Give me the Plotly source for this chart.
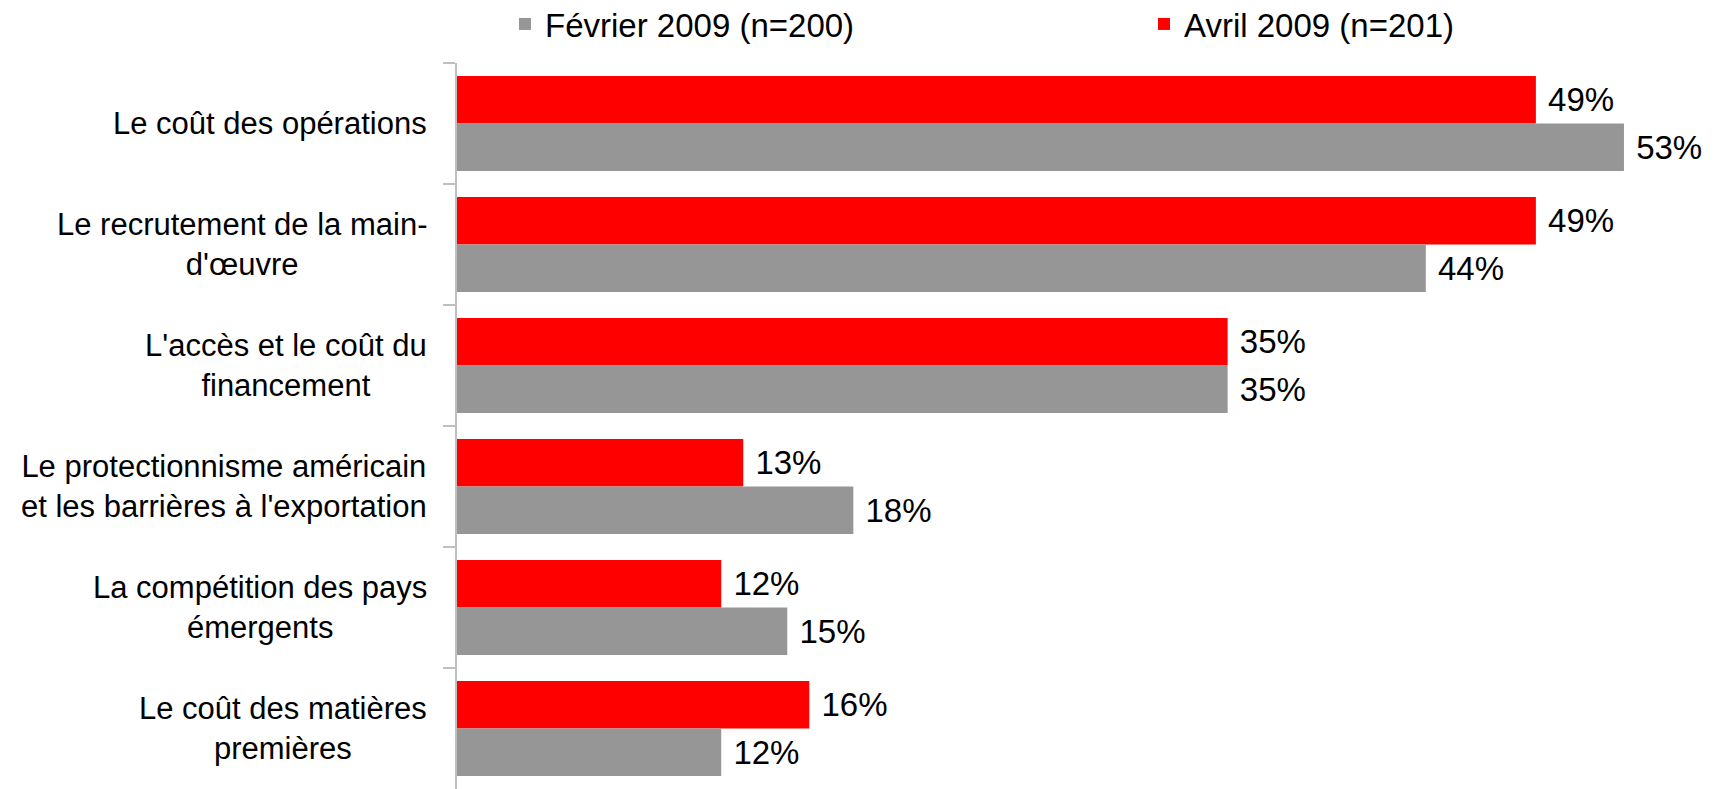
import plotly.graph_objects as go

categories = [
    "Le coût des opérations",
    "Le recrutement de la main-<br>d'œuvre",
    "L'accès et le coût du<br>financement",
    "Le protectionnisme américain<br>et les barrières à l'exportation",
    "La compétition des pays<br>émergents",
    "Le coût des matières<br>premières",
]
cat_ids = ["c1", "c2", "c3", "c4", "c5", "c6"]
avril = [49, 49, 35, 13, 12, 16]
fevrier = [53, 44, 35, 18, 15, 12]
series_names = ["Février 2009 (n=200)", "Avril 2009 (n=201)"]

FONT = "Liberation Sans"
FS = 31
FS_NUM = 33

fig = go.Figure()
fig.add_trace(go.Bar(
    y=cat_ids, x=avril, orientation="h", name=series_names[1],
    marker=dict(color="#FF0000", line=dict(width=0)),
    text=[f" {v}%" for v in avril], textposition="outside", cliponaxis=False,
    textfont=dict(family=FONT, size=FS_NUM, color="black"), legend="legend2",
))
fig.add_trace(go.Bar(
    y=cat_ids, x=fevrier, orientation="h", name=series_names[0],
    marker=dict(color="#969696", line=dict(width=0)),
    text=[f" {v}%" for v in fevrier], textposition="outside", cliponaxis=False,
    textfont=dict(family=FONT, size=FS_NUM, color="black"), legend="legend",
))

for cid, lab in zip(cat_ids, categories):
    fig.add_annotation(x=0, y=cid, xref="x", yref="y", text=lab, showarrow=False,
                       xanchor="right", align="center", xshift=-28,
                       font=dict(family=FONT, size=FS, color="black"))

leg_common = dict(orientation="h", xref="container", yref="container",
                  y=1 - 24 / 789, xanchor="left", yanchor="middle",
                  bgcolor="rgba(0,0,0,0)",
                  font=dict(family=FONT, size=FS_NUM, color="black"))

fig.update_layout(
    width=1716, height=789,
    margin=dict(l=457, r=48, t=63, b=0, autoexpand=False),
    paper_bgcolor="white", plot_bgcolor="white",
    barmode="group", bargap=0.215, bargroupgap=0,
    font=dict(family=FONT, size=FS, color="black"),
    showlegend=True,
    legend=dict(x=505 / 1716, **leg_common),
    legend2=dict(x=1144 / 1716, **leg_common),
    xaxis=dict(range=[0, 55], showgrid=False, zeroline=False, showline=False,
               showticklabels=False, ticks=""),
    yaxis=dict(autorange="reversed", showgrid=False, zeroline=False,
               showline=True, linecolor="#BFBFBF", linewidth=2,
               ticks="outside", ticklen=12, tickcolor="#BFBFBF", tickwidth=2,
               tickson="boundaries", showticklabels=False),
)

fig.write_html("out.html", config={"displayModeBar": False},
               post_script="document.body.style.margin='0';document.body.style.overflow='hidden';")
